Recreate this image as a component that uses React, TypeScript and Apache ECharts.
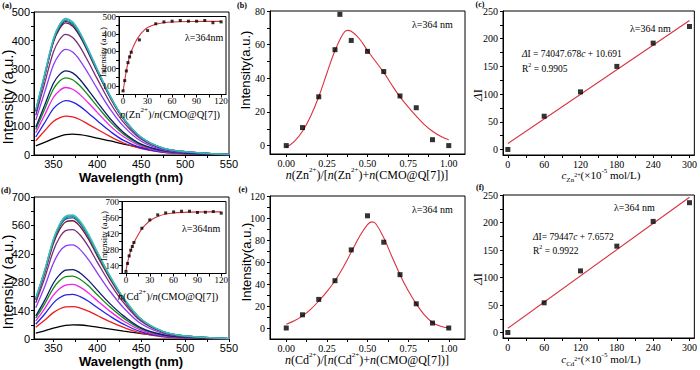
import React, { useEffect, useRef } from "react";
import * as echarts from "echarts";

const SERIF = "'Liberation Serif', 'Times New Roman', serif";
const SANS = "'Liberation Sans', Arial, Helvetica, sans-serif";

// ---------- data: spectra (a) and (d) ----------
const wavelengths = [330, 340, 350, 357, 364, 372, 380, 390, 400, 415, 430, 450, 475, 500, 550];

const znSpectra = [
  [32, 44, 57, 65, 71, 73, 71, 66, 59, 49, 38, 26, 15, 8, 2],
  [50, 84, 117, 130, 136, 133, 124, 107, 90, 64, 42, 22, 9, 4, 1],
  [63, 112, 162, 181, 190, 185, 171, 146, 120, 82, 51, 25, 10, 5, 1],
  [78, 139, 201, 225, 236, 230, 212, 182, 149, 101, 64, 31, 12, 6, 1],
  [89, 159, 230, 258, 270, 263, 243, 208, 170, 116, 73, 35, 14, 7, 1],
  [97, 173, 250, 281, 294, 287, 265, 226, 185, 126, 79, 38, 15, 7, 1],
  [122, 218, 314, 352, 369, 360, 332, 284, 232, 159, 100, 48, 18, 9, 1],
  [139, 249, 359, 403, 422, 411, 380, 325, 266, 181, 114, 55, 21, 11, 2],
  [152, 273, 393, 441, 462, 450, 416, 356, 291, 199, 125, 60, 23, 12, 2],
  [154, 276, 397, 446, 467, 455, 420, 360, 294, 201, 126, 61, 23, 12, 2],
  [155, 278, 400, 450, 471, 459, 424, 363, 297, 203, 127, 61, 24, 12, 2],
  [157, 280, 404, 454, 475, 463, 428, 366, 299, 204, 128, 62, 24, 12, 2],
  [158, 282, 406, 456, 478, 466, 430, 368, 301, 206, 129, 62, 24, 12, 2],
];

const cdSpectra = [
  [29, 40, 53, 61, 67, 70, 69, 65, 59, 49, 39, 27, 15, 8, 2],
  [58, 92, 130, 148, 158, 160, 154, 137, 116, 84, 57, 29, 11, 5, 1],
  [73, 122, 177, 203, 218, 220, 210, 186, 155, 111, 73, 35, 13, 6, 1],
  [89, 149, 216, 248, 266, 269, 257, 227, 189, 135, 89, 43, 16, 7, 1],
  [103, 172, 250, 287, 307, 310, 296, 262, 218, 156, 103, 50, 19, 8, 1],
  [114, 189, 275, 316, 339, 342, 327, 289, 241, 172, 114, 55, 21, 9, 1],
  [154, 256, 373, 429, 459, 464, 443, 391, 326, 233, 154, 75, 28, 12, 2],
  [179, 298, 434, 499, 534, 539, 515, 455, 379, 271, 179, 87, 33, 14, 2],
  [193, 322, 469, 539, 577, 583, 557, 492, 410, 293, 193, 94, 35, 15, 2],
  [198, 330, 480, 552, 591, 597, 570, 504, 420, 300, 198, 96, 36, 15, 2],
  [200, 333, 485, 558, 597, 603, 576, 509, 424, 303, 200, 97, 36, 15, 2],
  [202, 336, 489, 562, 602, 608, 580, 513, 428, 306, 202, 98, 37, 15, 2],
  [203, 338, 492, 566, 606, 612, 584, 517, 431, 308, 203, 98, 37, 15, 2],
];

const znColors = ["#000000", "#ee1c1c", "#2424e8", "#f020f0", "#168c16", "#101a6e", "#8b3cf5", "#7d2a7d", "#7a1828", "#202c8a", "#208c8c", "#40a8c0", "#38b8b8"];
const cdColors = ["#000000", "#ee1c1c", "#2424e8", "#f020f0", "#168c16", "#101a6e", "#8b3cf5", "#7d2a7d", "#7a1828", "#2050c0", "#208c8c", "#30b0a0", "#40c0b0"];

// ---------- insets ----------
const insetRatio = [0, 2, 4, 6, 8, 10, 20, 30, 40, 50, 60, 70, 80, 90, 100, 110, 120];
const insetZnPts = [71, 130, 186, 234, 267, 294, 365, 419, 458, 469, 473, 477, 473, 473, 477, 464, 469];
const insetCdPts = [88, 158, 224, 274, 306, 341, 466, 539, 583, 600, 609, 615, 615, 604, 606, 612, 598];
const insetFitX = [0, 2, 4, 6, 8, 10, 15, 20, 25, 30, 40, 50, 60, 80, 100, 120];
const insetZnFit = [68, 130, 186, 232, 268, 298, 352, 390, 417, 436, 455, 464, 468, 471, 472, 472];
const insetCdFit = [92, 165, 222, 268, 307, 340, 405, 460, 500, 532, 568, 590, 600, 607, 609, 609];

// ---------- Job plots (b), (e) ----------
const bX = [0, 0.1, 0.2, 0.3, 0.33, 0.4, 0.5, 0.6, 0.7, 0.8, 0.9, 1.0];
const bY = [0, 10.7, 29, 57, 78, 62.5, 56, 44, 29.5, 22.5, 3.5, 0];
const bFitX = [0, 0.05, 0.1, 0.15, 0.2, 0.25, 0.3, 0.35, 0.375, 0.4, 0.45, 0.5, 0.55, 0.6, 0.65, 0.7, 0.75, 0.8, 0.85, 0.9, 0.95, 1.0];
const bFitY = [-1, 2.5, 8.5, 17.5, 29, 43, 56.5, 66.5, 68.5, 68, 63.5, 56.5, 50, 43.5, 36, 29, 23, 17.5, 12.5, 8.5, 5.5, 3.5];

const eX = [0, 0.1, 0.2, 0.3, 0.4, 0.5, 0.6, 0.7, 0.8, 0.9, 1.0];
const eY = [0, 12, 26, 43, 71, 102, 78, 48.5, 22, 4.5, 0];
const eFitX = [0, 0.05, 0.1, 0.15, 0.2, 0.25, 0.3, 0.35, 0.4, 0.45, 0.5, 0.525, 0.55, 0.6, 0.65, 0.7, 0.75, 0.8, 0.85, 0.9, 0.95, 1.0];
const eFitY = [3.5, 6.5, 11, 17, 24.5, 33, 43, 55, 69, 83, 94, 96.5, 95, 82, 65, 48.5, 34, 22, 12, 5, 1.5, 0];

// ---------- calibration (c), (f) ----------
const concX = [0, 60, 120, 180, 240, 300];
const cY = [0, 60, 104, 150, 192, 222];
const cFit = [10.7, 232.8];
const fY = [0, 54, 112, 157, 202, 236];
const fFit = [7.7, 246.0];

// ---------- ticks ----------
const wlTicks = [350, 375, 400, 425, 450, 475, 500, 525, 550];
const wlLabels = [350, 400, 450, 500, 550];
const znTicks = [0, 50, 100, 150, 200, 250, 300, 350, 400, 450, 500];
const znLabels = [0, 100, 200, 300, 400, 500];
const cdTicks = [0, 70, 140, 210, 280, 350, 420, 490, 560, 630, 700];
const cdLabels = [0, 140, 280, 420, 560, 700];
const ratioTicks = [0, 15, 30, 45, 60, 75, 90, 105, 120];
const ratioLabels = [0, 30, 60, 90, 120];
const insZnTicks = [50, 100, 150, 200, 250, 300, 350, 400, 450, 500];
const insZnLabels = [100, 200, 300, 400, 500];
const insCdTicks = [70, 140, 210, 280, 350, 420, 490, 560, 630, 700];
const insCdLabels = [140, 280, 420, 560, 700];
const fracTicks = [0, 0.125, 0.25, 0.375, 0.5, 0.625, 0.75, 0.875, 1];
const fracLabels = [0, 0.25, 0.5, 0.75, 1];
const bTicks = [0, 10, 20, 30, 40, 50, 60, 70, 80];
const bLabels = [0, 20, 40, 60, 80];
const eTicks = [0, 10, 20, 30, 40, 50, 60, 70, 80, 90, 100, 110, 120];
const eLabels = [0, 20, 40, 60, 80, 100, 120];
const concTicks = [0, 30, 60, 90, 120, 150, 180, 210, 240, 270, 300];
const concLabels = [0, 60, 120, 180, 240, 300];
const dITicks = [0, 25, 50, 75, 100, 125, 150, 175, 200, 225, 250];
const dILabels = [0, 50, 100, 150, 200, 250];

const RED = "#d8323c";

function axis(gridIndex: number, min: number, max: number, ticks: number[], labels: number[], font: string, size: number, margin: number, z: number, fmt?: (v: number) => string) {
  return {
    type: "value",
    gridIndex,
    min,
    max,
    z,
    axisLine: { show: true, onZero: false, lineStyle: { color: "#000", width: 1 } },
    axisTick: { show: true, length: 3, customValues: ticks, lineStyle: { color: "#000", width: 1 } },
    axisLabel: {
      show: true,
      customValues: labels,
      margin,
      fontSize: size,
      fontFamily: font,
      color: "#000",
      formatter: fmt ? fmt : (v: number) => String(v),
    },
    splitLine: { show: false },
    minorTick: { show: false },
  };
}

function rich(size: number, family = SERIF) {
  const s = Math.round(size * 0.62);
  return {
    r: { fontFamily: family, fontSize: size, lineHeight: size + 5, fill: "#000" },
    i: { fontFamily: family, fontSize: size, fontStyle: "italic", lineHeight: size + 5, fill: "#000" },
    s: { fontFamily: family, fontSize: s, verticalAlign: "top", fill: "#000" },
    sb: { fontFamily: family, fontSize: s, verticalAlign: "bottom", fill: "#000" },
    sbs: { fontFamily: family, fontSize: Math.round(size * 0.5), verticalAlign: "middle", fill: "#000" },
  };
}

function txt(x: number, y: number, text: string, o: any = {}) {
  const align = o.align || "center";
  return {
    type: "text",
    x,
    y,
    rotation: o.rot || 0,
    z: 100,
    style: {
      text,
      rich: o.rich,
      fontSize: o.size || 10,
      fontFamily: o.family || SERIF,
      fontWeight: o.weight || "normal",
      fontStyle: o.style || "normal",
      fill: "#000",
      align,
      textAlign: align,
      verticalAlign: "middle",
      textVerticalAlign: "middle",
    },
  };
}

function buildOption() {
  const grids = [
    { left: 34, top: 12, width: 195, height: 143 },
    { left: 119, top: 16.5, width: 107, height: 78, inset: true },
    { left: 270, top: 11, width: 195, height: 143 },
    { left: 503, top: 11, width: 193, height: 144 },
    { left: 34, top: 197, width: 195, height: 142 },
    { left: 122, top: 201.5, width: 104, height: 72, inset: true },
    { left: 270, top: 196, width: 195, height: 143 },
    { left: 503, top: 195, width: 193, height: 143 },
  ].map((g) => ({
    left: g.left,
    top: g.top,
    width: g.width,
    height: g.height,
    show: true,
    borderColor: "#000",
    borderWidth: 1,
    backgroundColor: g.inset ? "#ffffff" : "transparent",
    z: g.inset ? 10 : 2,
  }));

  const f2 = (v: number) => v.toFixed(2);
  const xAxis = [
    axis(0, 328, 550, wlTicks, wlLabels, SANS, 11, 3, 0),
    axis(1, -5, 126, ratioTicks, ratioLabels, SERIF, 9, 1.5, 11),
    axis(2, -0.1, 1.1, fracTicks, fracLabels, SERIF, 10, 4, 0, f2),
    axis(3, -8, 308, concTicks, concLabels, SERIF, 10, 4, 0),
    axis(4, 328, 550, wlTicks, wlLabels, SANS, 11, 3, 0),
    axis(5, -5, 126, ratioTicks, ratioLabels, SERIF, 9, 1.5, 11),
    axis(6, -0.1, 1.1, fracTicks, fracLabels, SERIF, 10, 4, 0, f2),
    axis(7, -8, 308, concTicks, concLabels, SERIF, 10, 4, 0),
  ];
  const yAxis = [
    axis(0, 0, 500, znTicks, znLabels, SANS, 11, 4, 0),
    axis(1, 50, 500, insZnTicks, insZnLabels, SERIF, 9, 3, 11),
    axis(2, -5, 80, bTicks, bLabels, SERIF, 10, 5, 0),
    axis(3, -10, 250, dITicks, dILabels, SERIF, 10, 5, 0),
    axis(4, 0, 700, cdTicks, cdLabels, SANS, 11, 4, 0),
    axis(5, 70, 700, insCdTicks, insCdLabels, SERIF, 9, 3, 11),
    axis(6, -10, 120, eTicks, eLabels, SERIF, 10, 5, 0),
    axis(7, -10, 250, dITicks, dILabels, SERIF, 10, 5, 0),
  ];

  const series: any[] = [];
  const spectra = (data: number[][], colors: string[], idx: number) => {
    data.forEach((vals, k) => {
      series.push({
        type: "line",
        xAxisIndex: idx,
        yAxisIndex: idx,
        data: vals.map((v, j) => [wavelengths[j], v]),
        showSymbol: false,
        smooth: 0.35,
        lineStyle: { color: colors[k], width: 1.3 },
        z: 2,
        silent: true,
      });
    });
  };
  spectra(znSpectra, znColors, 0);
  spectra(cdSpectra, cdColors, 4);

  const scatter = (xs: number[], ys: number[], idx: number, size: number, z: number) => ({
    type: "scatter",
    xAxisIndex: idx,
    yAxisIndex: idx,
    data: xs.map((x, j) => [x, ys[j]]),
    symbol: "rect",
    symbolSize: size,
    itemStyle: { color: "#000" },
    z,
    silent: true,
  });
  const fit = (xs: number[], ys: number[], idx: number, z: number, smooth: number | boolean) => ({
    type: "line",
    xAxisIndex: idx,
    yAxisIndex: idx,
    data: xs.map((x, j) => [x, ys[j]]),
    showSymbol: false,
    smooth,
    lineStyle: { color: RED, width: 1.1 },
    z,
    silent: true,
  });

  series.push(fit(insetFitX, insetZnFit, 1, 12, 0.3));
  series.push(scatter(insetRatio, insetZnPts, 1, 3, 13));
  series.push(fit(insetFitX, insetCdFit, 5, 12, 0.3));
  series.push(scatter(insetRatio, insetCdPts, 5, 3, 13));

  series.push(fit(bFitX, bFitY, 2, 2, 0.4));
  series.push(scatter(bX, bY, 2, 5, 3));
  series.push(fit(eFitX, eFitY, 6, 2, 0.4));
  series.push(scatter(eX, eY, 6, 5, 3));

  series.push(fit([concX[0], concX[concX.length - 1]], cFit, 3, 2, false));
  series.push(scatter(concX, cY, 3, 5, 3));
  series.push(fit([concX[0], concX[concX.length - 1]], fFit, 7, 2, false));
  series.push(scatter(concX, fY, 7, 5, 3));

  const R12 = rich(12);
  const R11 = rich(11);
  const R105 = rich(10.5);
  const R95 = rich(9.5);
  const R13 = rich(13);

  const graphic = [
    txt(7, 5, "(a)", { size: 8, weight: "bold" }),
    txt(242, 5, "(b)", { size: 8, weight: "bold" }),
    txt(480, 4, "(c)", { size: 8, weight: "bold" }),
    txt(6, 190, "(d)", { size: 8, weight: "bold" }),
    txt(243, 189, "(e)", { size: 8, weight: "bold" }),
    txt(480, 187, "(f)", { size: 8, weight: "bold" }),

    txt(7, 97, "Intensity (a.u.)", { size: 15, family: SANS, rot: Math.PI / 2 }),
    txt(131, 177, "Wavelength (nm)", { size: 13, family: SANS, weight: "bold" }),
    txt(7, 282, "Intensity (a.u.)", { size: 15, family: SANS, rot: Math.PI / 2 }),
    txt(131, 361, "Wavelength (nm)", { size: 13, family: SANS, weight: "bold" }),

    txt(103, 52, "Intensity (a.u.)", { size: 8.5, rot: Math.PI / 2 }),
    txt(170, 114, "{i|n}{r|(Zn}{s|2+}{r|)/}{i|n}{r|(CMO@Q[7])}", { rich: R105 }),
    txt(185, 37, "λ=364nm", { size: 10, align: "left" }),
    txt(104, 236, "Intensity (a.u.)", { size: 8.5, rot: Math.PI / 2 }),
    txt(168, 296, "{i|n}{r|(Cd}{s|2+}{r|)/}{i|n}{r|(CMO@Q[7])}", { rich: R105 }),
    txt(182, 228, "λ=364nm", { size: 10, align: "left" }),

    txt(245, 70, "Intensity(a.u.)", { size: 13, family: SANS, rot: Math.PI / 2 }),
    txt(367, 175, "{i|n}{r|(Zn}{s|2+}{r|)/[}{i|n}{r|(Zn}{s|2+}{r|)+}{i|n}{r|(CMO@Q[7])]}", { rich: R12 }),
    txt(412, 24, "λ=364 nm", { size: 10, align: "left" }),
    txt(246, 262, "Intensity(a.u.)", { size: 13, family: SANS, rot: Math.PI / 2 }),
    txt(367, 360, "{i|n}{r|(Cd}{s|2+}{r|)/[}{i|n}{r|(Cd}{s|2+}{r|)+}{i|n}{r|(CMO@Q[7])]}", { rich: R12 }),
    txt(412, 209, "λ=364 nm", { size: 10, align: "left" }),

    txt(477, 95, "{i|Δ}{r|I}", { rich: R13, rot: Math.PI / 2 }),
    txt(601, 175, "{i|c}{sb|Zn}{sbs|2+}{r|(×10}{s|-5}{r| mol/L)}", { rich: R11 }),
    txt(630, 28, "λ=364 nm", { size: 10, align: "left" }),
    txt(522, 54, "{i|Δ}{r|I = 74047.678}{i|c}{r| + 10.691}", { rich: R95, align: "left" }),
    txt(522, 69, "{r|R}{s|2}{r| = 0.9905}", { rich: R95, align: "left" }),

    txt(477, 279, "{i|Δ}{r|I}", { rich: R13, rot: Math.PI / 2 }),
    txt(601, 359, "{i|c}{sb|Cd}{sbs|2+}{r|(×10}{s|-5}{r| mol/L)}", { rich: R11 }),
    txt(614, 207, "λ=364 nm", { size: 10, align: "left" }),
    txt(533, 237, "{i|Δ}{r|I= 79447}{i|c}{r| + 7.6572}", { rich: R95, align: "left" }),
    txt(533, 251, "{r|R}{s|2}{r| = 0.9922}", { rich: R95, align: "left" }),
  ];

  return {
    animation: false,
    backgroundColor: "#ffffff",
    grid: grids,
    xAxis,
    yAxis,
    series,
    graphic,
  };
}

export default function App() {
  const ref = useRef<HTMLDivElement>(null);
  useEffect(() => {
    document.body.style.margin = "0";
    const chart = echarts.init(ref.current as HTMLDivElement, null, { renderer: "svg" });
    chart.setOption(buildOption() as any);
    return () => chart.dispose();
  }, []);
  return <div ref={ref} style={{ width: 700, height: 370, background: "#fff" }} />;
}
